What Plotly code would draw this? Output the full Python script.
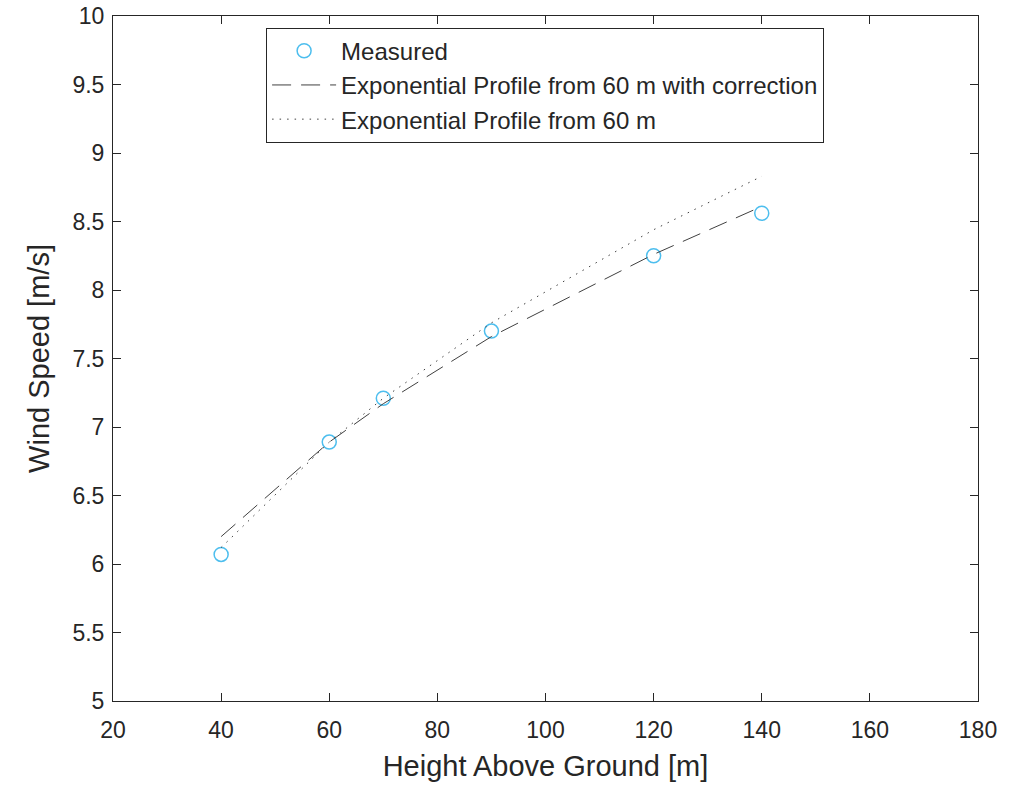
import plotly.graph_objects as go

heights = [40, 60, 70, 90, 120, 140]
measured = [6.07, 6.89, 7.21, 7.70, 8.25, 8.56]
corrected = [6.20, 6.89, 7.17, 7.66, 8.26, 8.61]
profile60 = [6.12, 6.89, 7.21, 7.76, 8.44, 8.83]

x_ticks = [20, 40, 60, 80, 100, 120, 140, 160, 180]
y_ticks = [5, 5.5, 6, 6.5, 7, 7.5, 8, 8.5, 9, 9.5, 10]
y_tick_labels = ["5", "5.5", "6", "6.5", "7", "7.5", "8", "8.5", "9", "9.5", "10"]

FONT = "Liberation Sans, Arial, sans-serif"
TXT = "#262626"

fig = go.Figure()
fig.add_trace(go.Scatter(
    x=heights, y=measured, mode="markers", name="Measured",
    marker=dict(symbol="circle-open", size=14, color="#4DBEEE", line=dict(width=1.5, color="#4DBEEE")),
))
fig.add_trace(go.Scatter(
    x=heights, y=corrected, mode="lines", name="Exponential Profile from 60 m with correction",
    line=dict(color="#404040", width=1, dash="19px,10px"),
))
fig.add_trace(go.Scatter(
    x=heights, y=profile60, mode="lines", name="Exponential Profile from 60 m",
    line=dict(color="#404040", width=1, dash="1.5px,6px"),
))

axis_common = dict(
    showgrid=False, zeroline=False, showline=True, linecolor=TXT, linewidth=1,
    mirror="ticks", ticks="inside", ticklen=8, tickcolor=TXT,
    tickfont=dict(family=FONT, size=23, color=TXT),
    automargin=False,
)
fig.update_xaxes(range=[20, 180], tickvals=x_ticks, ticklabelstandoff=8,
                 title=dict(text="Height Above Ground [m]", font=dict(family=FONT, size=29, color=TXT), standoff=14),
                 **axis_common)
fig.update_yaxes(range=[5, 10], tickvals=y_ticks, ticktext=y_tick_labels, ticklabelstandoff=3,
                 title=dict(text="Wind Speed [m/s]", font=dict(family=FONT, size=29, color=TXT), standoff=14),
                 **axis_common)

fig.update_layout(
    width=1028, height=787,
    margin=dict(l=113, r=50, t=16, b=86),
    paper_bgcolor="white", plot_bgcolor="white",
    legend=dict(x=0.177, y=0.983, xanchor="left", yanchor="top",
                bgcolor="white", bordercolor=TXT, borderwidth=1,
                font=dict(family=FONT, size=24, color=TXT),
                tracegroupgap=0, itemwidth=64),
    showlegend=True,
)

fig.write_html("out.html", config={"displayModeBar": False},
               post_script="document.body.style.margin='0';")
